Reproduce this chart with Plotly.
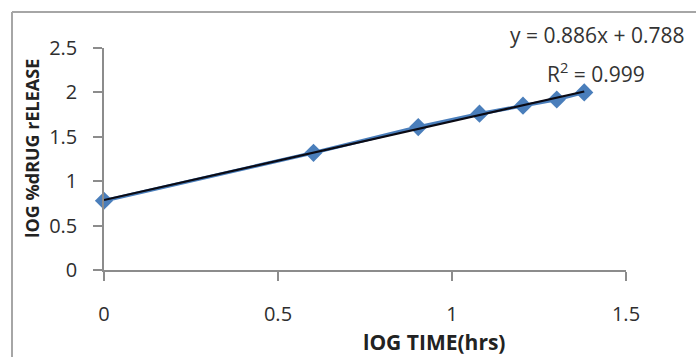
import plotly.graph_objects as go

# Data
log_time = [0.0, 0.602, 0.903, 1.079, 1.204, 1.301, 1.380]
log_release = [0.78, 1.32, 1.61, 1.76, 1.85, 1.92, 2.00]
trend_slope = 0.886
trend_intercept = 0.788
equation_text = "y = 0.886x + 0.788"
r2_text = "R<sup>2</sup> = 0.999"
x_ticks = [0, 0.5, 1, 1.5]
x_tick_labels = ["0", "0.5", "1", "1.5"]
y_ticks = [0, 0.5, 1, 1.5, 2, 2.5]
y_tick_labels = ["0", "0.5", "1", "1.5", "2", "2.5"]
x_title = "lOG TIME(hrs)"
y_title = "lOG %dRUG rELEASE"

W, H = 696, 357
L, R, T, B = 104, 70, 48, 87
pw, ph = W - L - R, H - T - B

def px(xpix):
    return (xpix - L) / pw

def py(ypix):
    return 1 - (ypix - T) / ph

trend_x = [min(log_time), max(log_time)]
trend_y = [trend_slope * v + trend_intercept for v in trend_x]

fig = go.Figure()
fig.add_trace(go.Scatter(
    x=log_time, y=log_release, mode="lines+markers",
    line=dict(color="#4A7EBB", width=3.5),
    marker=dict(symbol="diamond", size=14, color="#4A7EBB",
                line=dict(width=0)),
    showlegend=False, cliponaxis=False,
))
fig.add_trace(go.Scatter(
    x=trend_x, y=trend_y, mode="lines",
    line=dict(color="#0A0A14", width=2.2),
    showlegend=False, cliponaxis=False,
))

axis_common = dict(
    showgrid=False, zeroline=False, showline=True,
    linecolor="#8C8C8C", linewidth=1.5,
    ticks="outside", ticklen=9, tickcolor="#8C8C8C", tickwidth=1.5,
    tickfont=dict(family="Open Sans", size=20, color="#2E2E2E"),
    fixedrange=True,
)

fig.update_xaxes(range=[0, 1.5], tickvals=x_ticks, ticktext=x_tick_labels,
                 ticklabelstandoff=16, **axis_common)
fig.update_yaxes(range=[0, 2.5], tickvals=y_ticks, ticktext=y_tick_labels,
                 ticklabelstandoff=12, **axis_common)

annotations = [
    dict(text=f"<b>{x_title}</b>", x=px(434), y=py(342), xref="paper", yref="paper",
         showarrow=False, xanchor="center", yanchor="middle",
         font=dict(family="Open Sans", size=21, color="#222")),
    dict(text=f"<b>{y_title}</b>", x=px(32), y=py(149), xref="paper", yref="paper",
         showarrow=False, xanchor="center", yanchor="middle", textangle=-90,
         font=dict(family="Open Sans", size=18, color="#222")),
    dict(text=equation_text, x=px(597), y=py(35), xref="paper", yref="paper",
         showarrow=False, xanchor="center", yanchor="middle",
         font=dict(family="Open Sans", size=21, color="#333")),
    dict(text=r2_text, x=px(596), y=py(72), xref="paper", yref="paper",
         showarrow=False, xanchor="center", yanchor="middle",
         font=dict(family="Open Sans", size=21, color="#333")),
]

shapes = [
    dict(type="line", xref="paper", yref="paper",
         x0=px(12), x1=px(W + 10), y0=py(12), y1=py(12),
         line=dict(color="#A6A6A6", width=2)),
    dict(type="line", xref="paper", yref="paper",
         x0=px(12), x1=px(12), y0=py(12), y1=py(H + 10),
         line=dict(color="#A6A6A6", width=2)),
]

fig.update_layout(
    width=W, height=H, autosize=False,
    margin=dict(l=L, r=R, t=T, b=B),
    paper_bgcolor="white", plot_bgcolor="white",
    annotations=annotations, shapes=shapes,
    showlegend=False,
)

fig.write_html("out.html", config={"displayModeBar": False})
